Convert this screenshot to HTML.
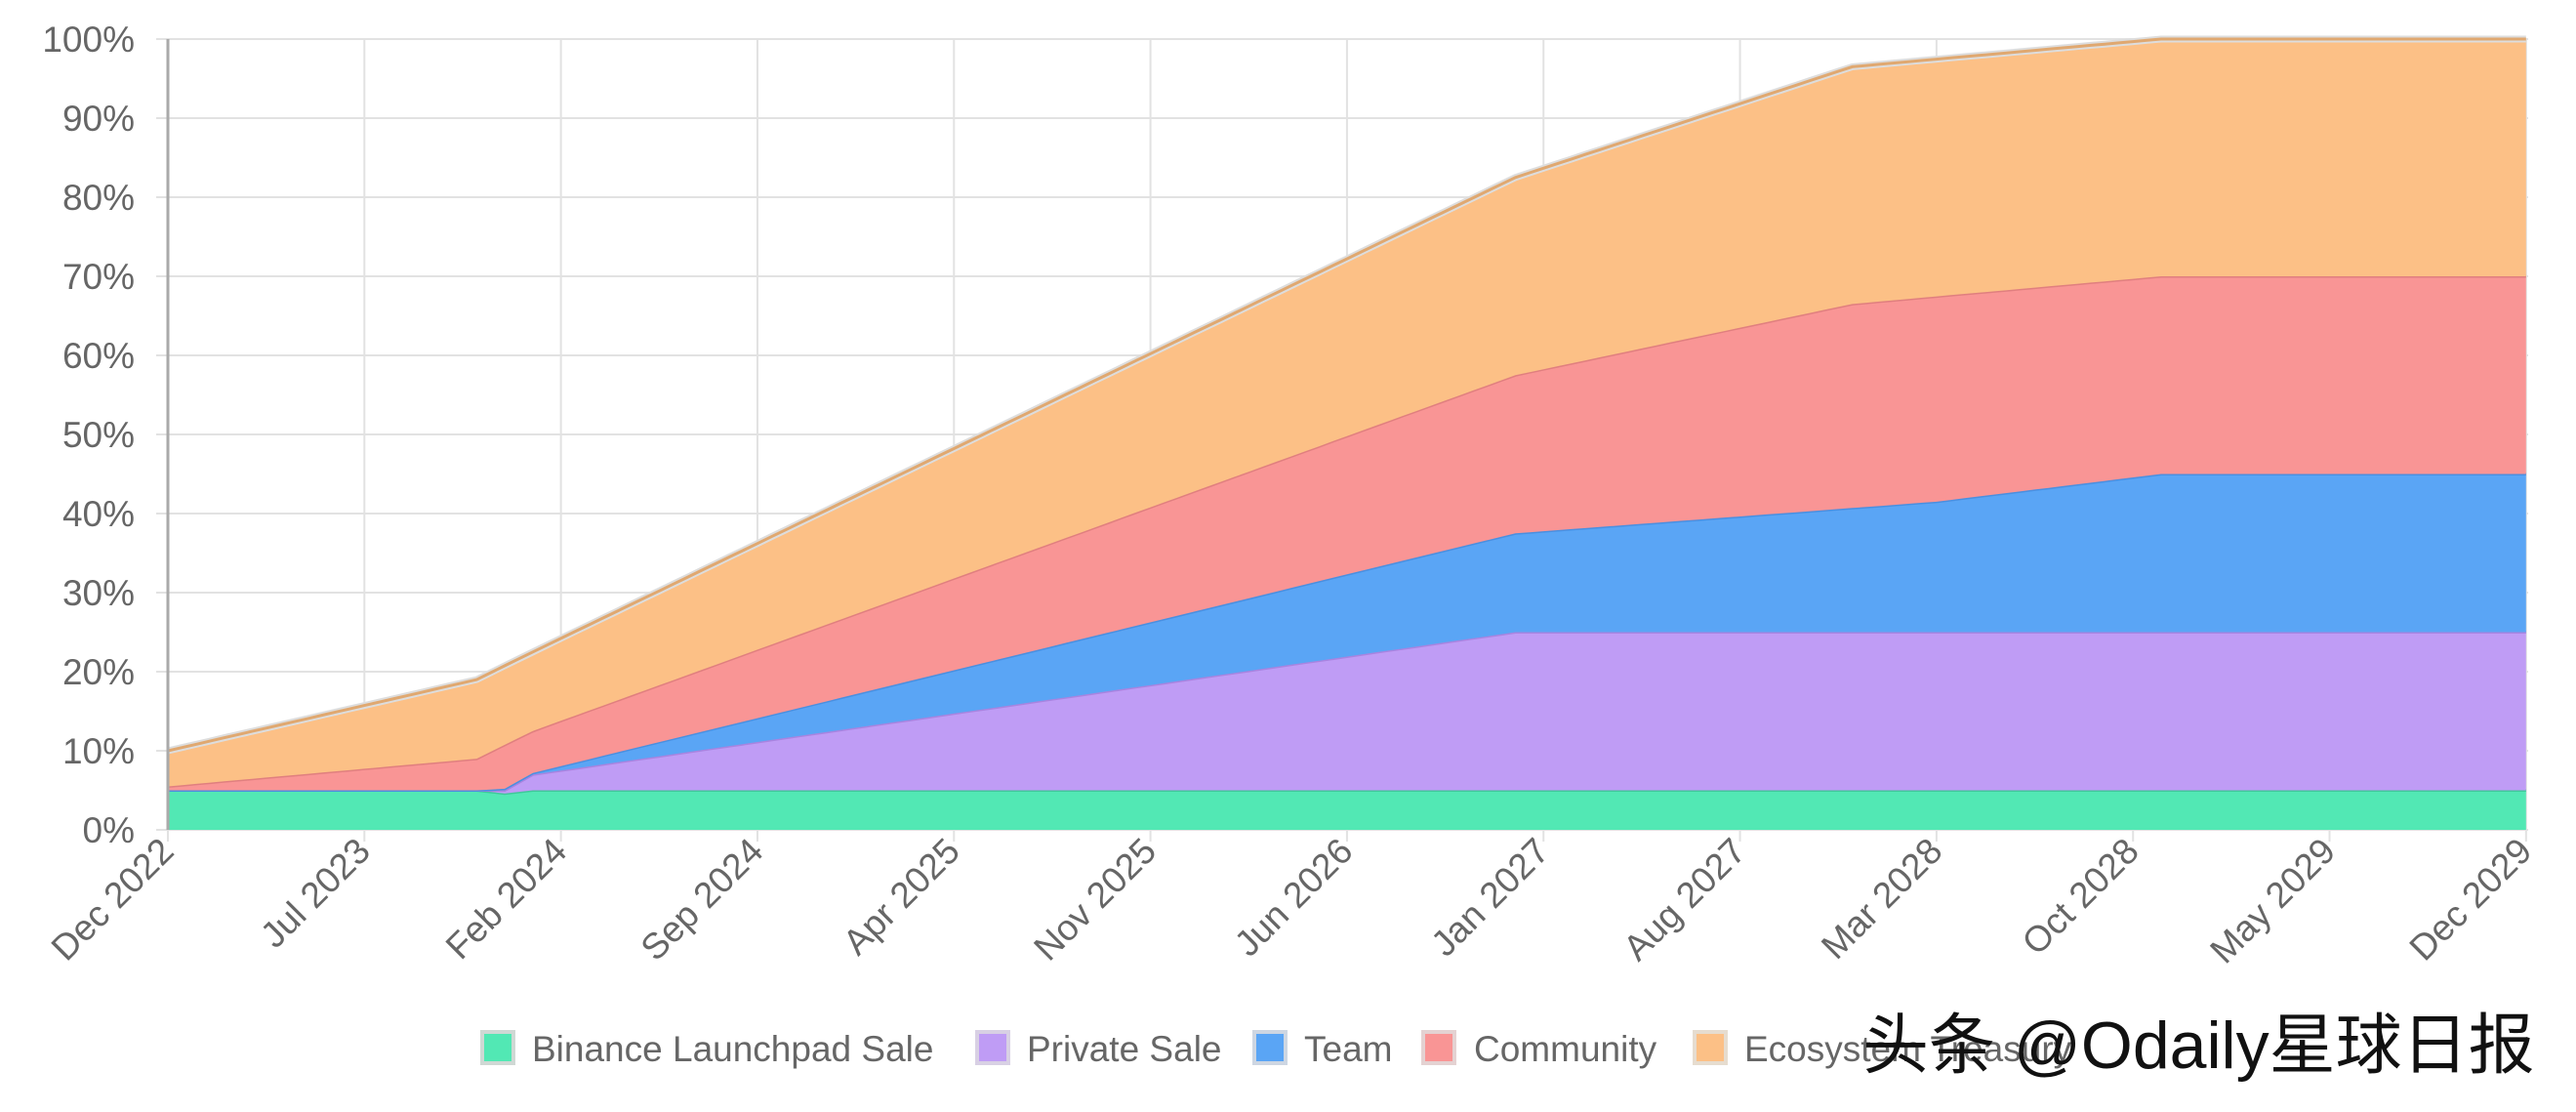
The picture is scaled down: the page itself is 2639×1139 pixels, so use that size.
<!DOCTYPE html>
<html><head><meta charset="utf-8"><style>
body{margin:0;background:#fff;width:2639px;height:1139px;overflow:hidden}
svg{display:block}
text{font-family:"Liberation Sans",sans-serif;fill:#666}
</style></head><body>
<svg id="s" width="2639" height="1139" xmlns="http://www.w3.org/2000/svg">
<g id="grid"></g><g id="areas"></g><g id="axes"></g>
<g font-size="37">
<rect x="494" y="1057" width="32" height="32" fill="#52e8b4" stroke="#cfd8d4" stroke-width="4"/><text x="545" y="1087">Binance Launchpad Sale</text>
<rect x="1001" y="1057" width="32" height="32" fill="#bf9cf5" stroke="#d8d0e4" stroke-width="4"/><text x="1052" y="1087">Private Sale</text>
<rect x="1285" y="1057" width="32" height="32" fill="#5aa5f5" stroke="#cdd6e2" stroke-width="4"/><text x="1336" y="1087">Team</text>
<rect x="1458" y="1057" width="32" height="32" fill="#f99595" stroke="#e4d2d2" stroke-width="4"/><text x="1510" y="1087">Community</text>
<rect x="1736" y="1057" width="32" height="32" fill="#fcc086" stroke="#e6dccf" stroke-width="4"/><text x="1787" y="1087">Ecosystem Treasury</text>
</g>
<text x="1908" y="1094" font-size="68" style="fill:#111;font-family:'Liberation Sans','Noto Sans CJK SC',sans-serif">头条 @Odaily星球日报</text>
</svg>
<script>
const NS="http://www.w3.org/2000/svg";
const X=m=>172+m*28.76, Y=v=>850-v*8.1;
function el(p,t,a,txt){const e=document.createElementNS(NS,t);for(const k in a)e.setAttribute(k,a[k]);if(txt)e.textContent=txt;document.getElementById(p).appendChild(e);return e;}
for(let i=0;i<=10;i++){const y=Y(i*10);el('grid','line',{x1:160,x2:2590,y1:y,y2:y,stroke:'#e2e2e2','stroke-width':2});
 el('axes','text',{x:138,y:y+13,'text-anchor':'end','font-size':37},(i*10)+'%');}
const labs=["Dec 2022","Jul 2023","Feb 2024","Sep 2024","Apr 2025","Nov 2025","Jun 2026","Jan 2027","Aug 2027","Mar 2028","Oct 2028","May 2029","Dec 2029"];
labs.forEach((l,i)=>{const x=X(i*7);el('grid','line',{x1:x,x2:x,y1:40,y2:862,stroke:'#e2e2e2','stroke-width':2});
 el('axes','text',{x:x+8,y:874,'text-anchor':'end','font-size':37,transform:`rotate(-45 ${x+8} 874)`},l);});
el('axes','line',{x1:172,x2:172,y1:40,y2:850,stroke:'#aaa','stroke-width':3});
function lin(pts){return m=>{for(let i=1;i<pts.length;i++){if(m<=pts[i][0]){const[a,b]=[pts[i-1],pts[i]];return a[1]+(b[1]-a[1])*(m-a[0])/(b[0]-a[0]);}}return pts[pts.length-1][1];};}
const series=[
 [lin([[0,0],[84,0]]),lin([[0,5],[11,5],[12,4.6],[13,5],[84,5]]),'#52e8b4','#3fc99a'],
 [null,lin([[0,5],[11,5],[12,5],[13,7],[48,25],[84,25]]),'#bf9cf5','#a884e0'],
 [null,lin([[0,5],[11,5],[12,5.2],[13,7.2],[48,37.5],[63,41.5],[71,45],[84,45]]),'#5aa5f5','#4a8fe0'],
 [null,lin([[0,5.5],[11,9],[13,12.5],[48,57.5],[60,66.5],[71,70],[84,70]]),'#f99595','#e07f7f'],
 [null,lin([[0,10],[11,19],[13,22.5],[48,82.5],[60,96.5],[71,100],[84,100]]),'#fcc086','#e0a870']];
const grid=[];for(let m=0;m<=84;m+=0.5)grid.push(m);
for(let i=0;i<series.length;i++){const top=series[i][1],bot=i==0?series[0][0]:series[i-1][1];
 let d='M'+grid.map(m=>X(m).toFixed(1)+','+Y(top(m)).toFixed(1)).join(' L');
 d+=' L'+grid.slice().reverse().map(m=>X(m).toFixed(1)+','+Y(bot(m)).toFixed(1)).join(' L')+'Z';
 el('areas','path',{d,fill:series[i][2]});
 const l='M'+grid.map(m=>X(m).toFixed(1)+','+Y(top(m)).toFixed(1)).join(' L');
 if(i==4)el('areas','path',{d:l,fill:'none',stroke:'#ddd','stroke-width':7});
 el('areas','path',{d:l,fill:'none',stroke:series[i][3],'stroke-width':3});}
</script>
</body></html>
